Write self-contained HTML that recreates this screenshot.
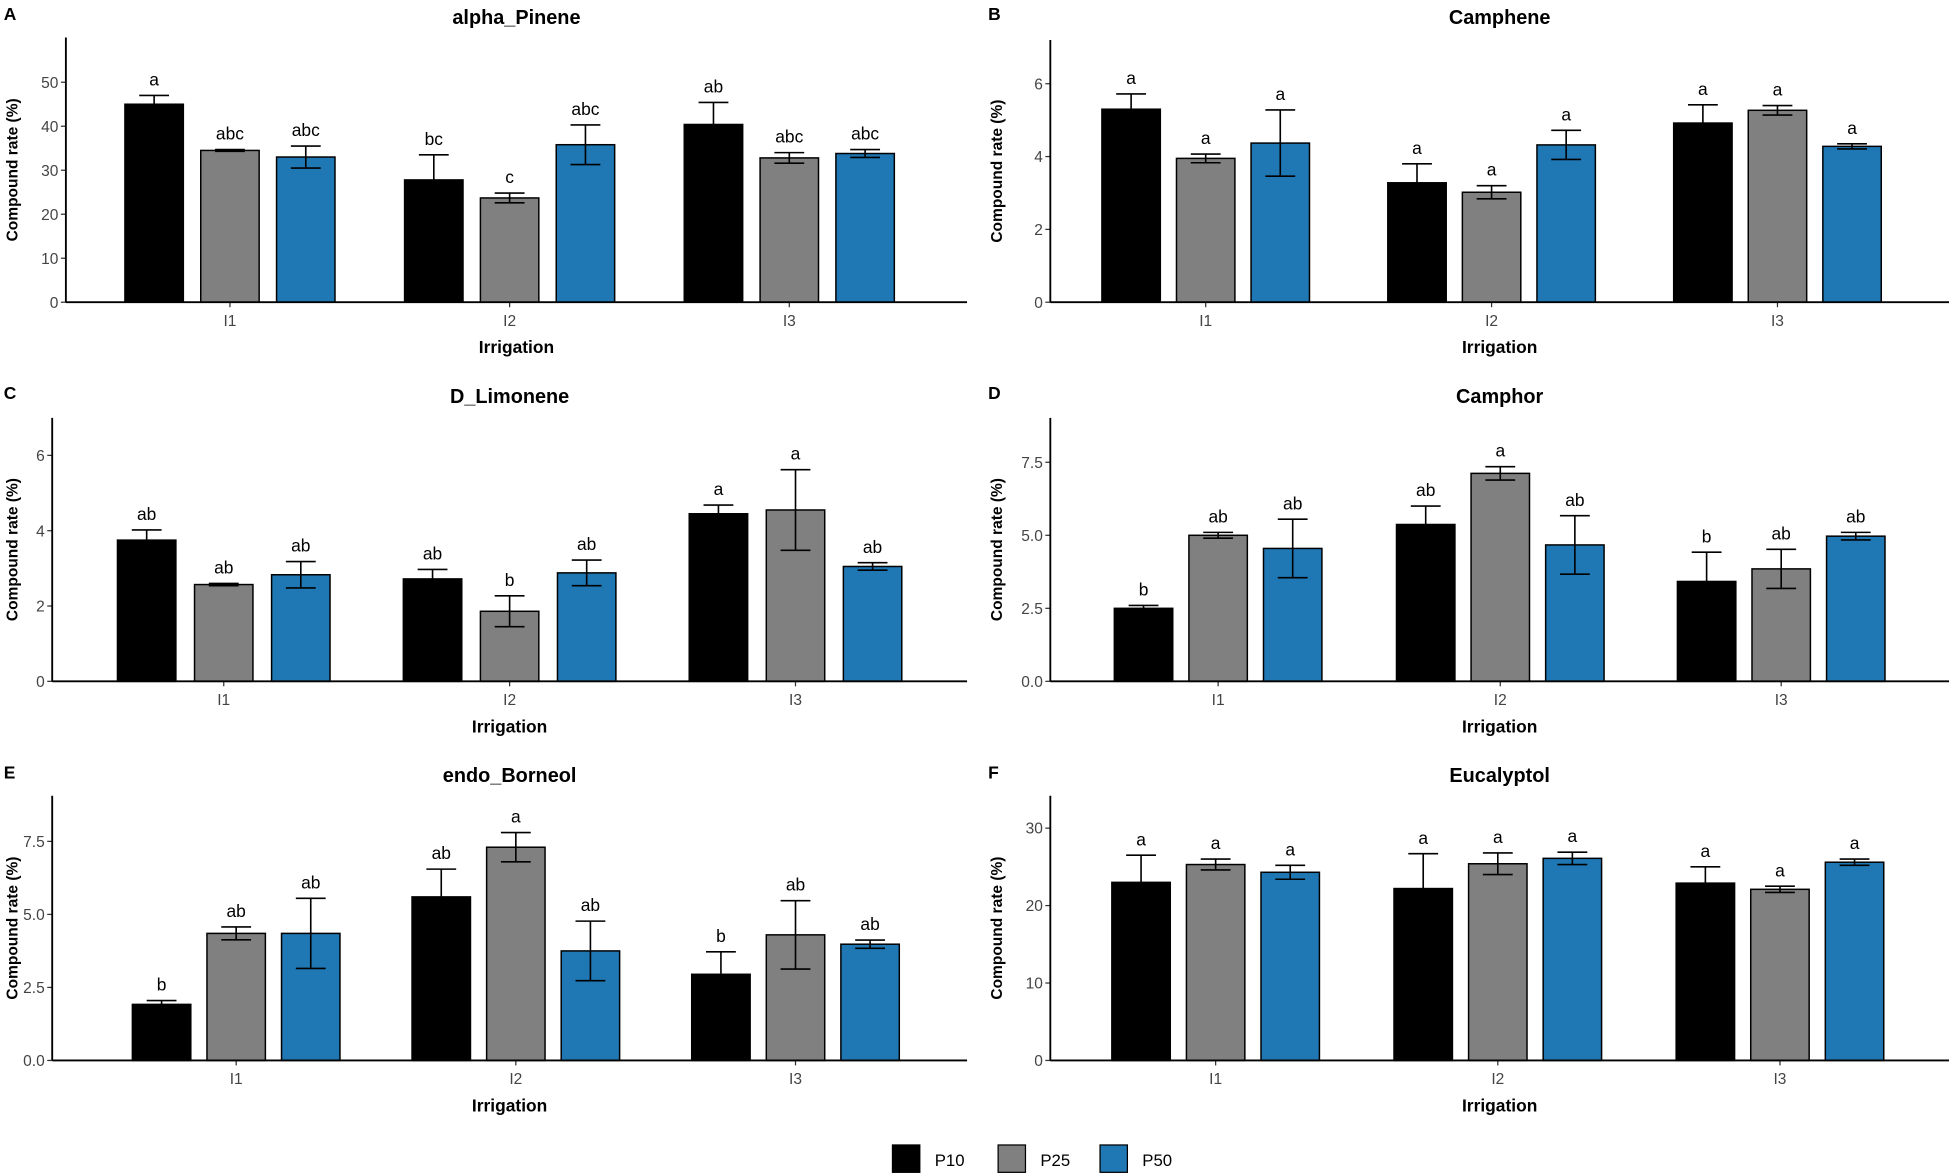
<!DOCTYPE html>
<html><head><meta charset="utf-8"><style>
html,body{margin:0;padding:0;background:#fff;}
svg{display:block;}
text{font-family:"Liberation Sans",Arial,sans-serif;}
</style></head><body>
<svg id="s" width="1949" height="1175" viewBox="0 0 1568 945" xmlns="http://www.w3.org/2000/svg"></svg>
<script>
const P=[
 {L:"A",t:"alpha_Pinene",ax:53,x1:778,y0:243,top:30,ppu:3.54,ticks:[0,10,20,30,40,50],fmt:0,c:[185,410,635],off:61,lab:10,
  d:[[45,47,"a"],[34.5,34.7,"abc"],[33,35.5,"abc"],[27.8,33.5,"bc"],[23.7,24.8,"c"],[35.8,40.3,"abc"],[40.4,45.4,"ab"],[32.8,34,"abc"],[33.8,34.7,"abc"]],lx:3},
 {L:"B",t:"Camphene",ax:845,x1:1568,y0:243,top:32,ppu:29.3,ticks:[0,2,4,6],fmt:0,c:[970,1200,1430],off:60,lab:802,
  d:[[5.3,5.72,"a"],[3.95,4.07,"a"],[4.37,5.28,"a"],[3.28,3.8,"a"],[3.02,3.2,"a"],[4.32,4.72,"a"],[4.92,5.42,"a"],[5.27,5.4,"a"],[4.28,4.35,"a"]],lx:795},
 {L:"C",t:"D_Limonene",ax:42,x1:778,y0:548,top:336,ppu:30.3,ticks:[0,2,4,6],fmt:0,c:[180,410,640],off:62,lab:10,
  d:[[3.75,4.02,"ab"],[2.57,2.6,"ab"],[2.83,3.18,"ab"],[2.72,2.97,"ab"],[1.86,2.27,"b"],[2.88,3.22,"ab"],[4.45,4.68,"a"],[4.55,5.62,"a"],[3.05,3.15,"ab"]],lx:3},
 {L:"D",t:"Camphor",ax:845,x1:1568,y0:548,top:336,ppu:23.5,ticks:[0,2.5,5,7.5],fmt:1,c:[980,1207,1433],off:60,lab:802,
  d:[[2.5,2.6,"b"],[5,5.1,"ab"],[4.55,5.55,"ab"],[5.37,6.0,"ab"],[7.12,7.35,"a"],[4.67,5.67,"ab"],[3.42,4.42,"b"],[3.85,4.52,"ab"],[4.97,5.1,"ab"]],lx:795},
 {L:"E",t:"endo_Borneol",ax:42,x1:778,y0:853,top:640,ppu:23.5,ticks:[0,2.5,5,7.5],fmt:1,c:[190,415,640],off:60,lab:10,
  d:[[1.92,2.05,"b"],[4.35,4.57,"ab"],[4.35,5.55,"ab"],[5.6,6.55,"ab"],[7.3,7.8,"a"],[3.75,4.77,"ab"],[2.95,3.72,"b"],[4.3,5.47,"ab"],[3.98,4.12,"ab"]],lx:3},
 {L:"F",t:"Eucalyptol",ax:845,x1:1568,y0:853,top:640,ppu:6.23,ticks:[0,10,20,30],fmt:0,c:[978,1205,1432],off:60,lab:802,
  d:[[23,26.5,"a"],[25.3,26,"a"],[24.3,25.2,"a"],[22.2,26.7,"a"],[25.4,26.8,"a"],[26.1,26.9,"a"],[22.9,25,"a"],[22.1,22.5,"a"],[25.6,26,"a"]],lx:795}
];
const cols=["#000000","#808080","#1f77b4"];
let h="";
for(const p of P){
 const mid=(p.ax+p.x1)/2;
 const ty=p.y0-226;
 h+=`<text x="${p.lx}" y="${ty-1}" font-size="14" font-weight="bold">${p.L}</text>`;
 h+=`<text x="${mid}" y="${ty+2}" font-size="16" font-weight="bold" text-anchor="middle">${p.t}</text>`;
 for(const t of p.ticks){const y=p.y0-t*p.ppu;
  h+=`<line x1="${p.ax-4}" x2="${p.ax}" y1="${y}" y2="${y}" stroke="#333" stroke-width="1"/>`;
  h+=`<text x="${p.ax-6}" y="${y+4.5}" font-size="12.5" fill="#444" text-anchor="end">${p.fmt?t.toFixed(1):t}</text>`;}
 h+=`<text transform="translate(${p.lab+4},${(p.top+p.y0)/2}) rotate(-90)" font-size="12.5" font-weight="bold" text-anchor="middle">Compound rate (%)</text>`;
 p.d.forEach((d,i)=>{const g=Math.floor(i/3),k=i%3,cx=p.c[g]+(k-1)*p.off,w=47;
  const yv=p.y0-d[0]*p.ppu,yt=p.y0-d[1]*p.ppu,yb=p.y0-(2*d[0]-d[1])*p.ppu;
  h+=`<rect x="${cx-w/2}" y="${yv}" width="${w}" height="${p.y0-yv}" fill="${cols[k]}" stroke="#000" stroke-width="1.2"/>`;
  h+=`<line x1="${cx}" x2="${cx}" y1="${yt}" y2="${yb}" stroke="#000" stroke-width="1.3"/>`;
  h+=`<line x1="${cx-12}" x2="${cx+12}" y1="${yt}" y2="${yt}" stroke="#000" stroke-width="1.3"/>`;
  h+=`<line x1="${cx-12}" x2="${cx+12}" y1="${yb}" y2="${yb}" stroke="#000" stroke-width="1.3"/>`;
  h+=`<text x="${cx}" y="${yt-8}" font-size="14" text-anchor="middle">${d[2]}</text>`;});
 ["I1","I2","I3"].forEach((n,g)=>{h+=`<line x1="${p.c[g]}" x2="${p.c[g]}" y1="${p.y0}" y2="${p.y0+4}" stroke="#333"/>`;
  h+=`<text x="${p.c[g]}" y="${p.y0+19}" font-size="12.5" fill="#444" text-anchor="middle">${n}</text>`;});
 h+=`<text x="${mid}" y="${p.y0+41}" font-size="14" font-weight="bold" text-anchor="middle">Irrigation</text>`;
 h+=`<line x1="${p.ax}" x2="${p.ax}" y1="${p.top}" y2="${p.y0}" stroke="#000" stroke-width="1.5"/>`;
 h+=`<line x1="${p.ax}" x2="${p.x1}" y1="${p.y0}" y2="${p.y0}" stroke="#000" stroke-width="1.5"/>`;
}
[["P10",718],["P25",803],["P50",885]].forEach((l,k)=>{
 h+=`<rect x="${l[1]}" y="921" width="22" height="22" fill="${cols[k]}" stroke="#000" stroke-width="1"/>`;
 h+=`<text x="${l[1]+34}" y="938" font-size="13.5">${l[0]}</text>`;});
document.getElementById("s").innerHTML=h;
</script>
</body></html>
